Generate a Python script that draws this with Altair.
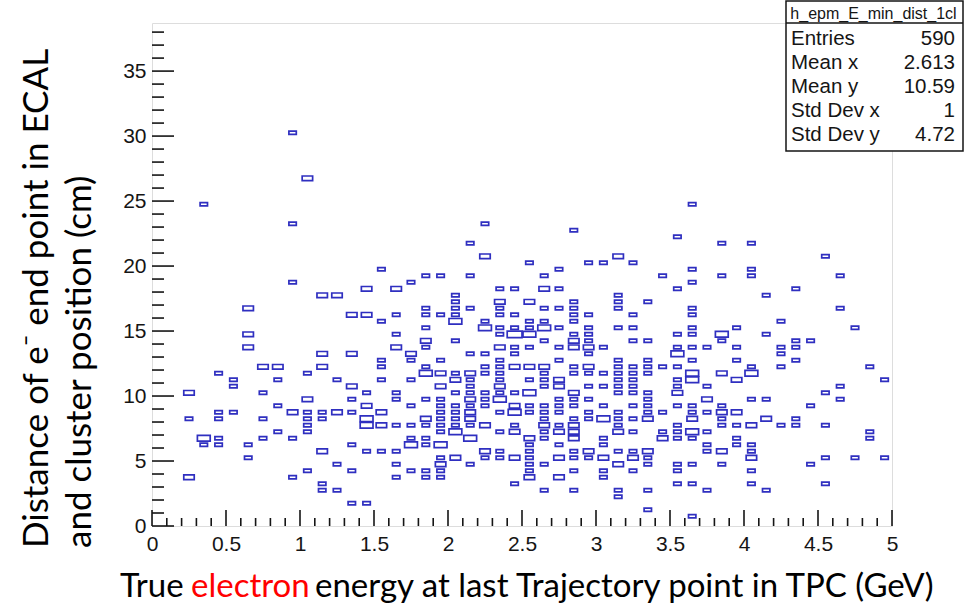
import altair as alt
import pandas as pd

# ---- histogram cells: bin-centre energy (GeV), bin-centre distances (cm), entries ----
col_energy = [0.25, 0.35, 0.45, 0.55, 0.65, 0.75, 0.85, 0.95, 1.05, 1.15, 1.25, 1.35, 1.45, 1.55, 1.65, 1.75,
              1.85, 1.95, 2.05, 2.15, 2.25, 2.35, 2.45, 2.55, 2.65, 2.75, 2.85, 2.95, 3.05, 3.15, 3.25, 3.35,
              3.45, 3.55, 3.65, 3.75, 3.85, 3.95, 4.05, 4.15, 4.25, 4.35, 4.45, 4.55, 4.65, 4.75, 4.85, 4.95]

col_distance = [
    [10.25, 8.25, 3.75],
    [24.75, 6.75, 6.25],
    [11.75, 8.75, 8.25, 6.75, 6.25],
    [11.25, 10.75, 8.75],
    [16.75, 14.75, 13.75, 6.25, 5.25],
    [12.25, 10.25, 8.25, 6.75],
    [12.25, 11.25, 9.25, 7.25],
    [30.25, 23.25, 18.75, 8.75, 6.75, 3.75],
    [26.75, 11.75, 9.75, 8.75, 8.25, 7.75, 7.25, 4.25],
    [17.75, 13.25, 12.25, 8.75, 8.25, 5.75, 3.25, 2.75],
    [17.75, 11.25, 8.75, 4.75, 2.75],
    [16.25, 13.25, 10.75, 9.75, 8.75, 6.25, 4.25, 1.75],
    [18.25, 16.25, 10.25, 9.25, 8.25, 7.75, 5.75, 1.75],
    [19.75, 15.75, 12.75, 12.25, 11.25, 8.75, 7.75, 5.75],
    [18.25, 16.25, 14.75, 13.75, 10.25, 9.75, 7.75, 5.75, 4.75, 3.75],
    [18.75, 13.25, 12.75, 11.25, 9.25, 7.75, 6.75, 6.25, 4.25],
    [19.25, 16.75, 16.25, 15.25, 14.25, 13.75, 12.25, 11.75, 9.75, 8.25, 7.75, 6.75, 6.25, 4.25, 3.75],
    [19.25, 16.25, 12.75, 11.75, 10.75, 9.75, 9.25, 8.75, 8.25, 7.75, 7.25, 6.25, 5.25, 4.75, 4.25, 3.75],
    [17.75, 17.25, 16.75, 16.25, 15.75, 14.25, 11.75, 11.25, 10.25, 9.25, 8.75, 8.25, 7.75, 7.25, 5.25],
    [21.75, 19.25, 16.75, 13.25, 11.75, 11.25, 10.75, 10.25, 9.75, 9.25, 8.75, 8.25, 7.75, 6.75, 4.75],
    [23.25, 20.75, 15.75, 15.25, 13.25, 12.25, 11.75, 10.25, 9.75, 9.25, 7.75, 5.75, 5.25],
    [18.25, 17.25, 16.75, 16.25, 15.25, 14.75, 13.75, 12.75, 12.25, 11.75, 11.25, 10.75, 10.25, 9.75, 8.75, 7.25, 5.75, 5.25],
    [18.25, 16.25, 15.25, 14.75, 13.75, 13.25, 12.25, 10.25, 9.25, 8.75, 7.75, 7.25, 5.25, 3.25],
    [20.25, 17.25, 15.75, 15.25, 14.75, 13.75, 12.25, 11.25, 10.25, 9.25, 8.75, 6.75, 6.25, 5.75, 5.25, 4.75, 4.25, 3.75],
    [19.25, 18.25, 16.75, 15.75, 15.25, 14.25, 12.25, 11.75, 11.25, 10.75, 9.25, 8.75, 8.25, 7.75, 7.25, 6.75, 4.75, 2.75],
    [19.75, 18.25, 16.75, 15.25, 13.75, 12.75, 11.25, 10.75, 9.75, 9.25, 8.75, 7.75, 7.25, 6.25, 5.25, 3.75],
    [22.75, 17.25, 16.75, 16.25, 15.75, 14.75, 14.25, 13.75, 12.25, 11.75, 10.25, 9.75, 9.25, 8.25, 7.75, 7.25, 6.75, 5.75, 5.25, 4.25, 2.75],
    [20.25, 16.25, 15.25, 14.75, 14.25, 13.75, 13.25, 12.25, 11.75, 10.75, 9.75, 8.75, 8.25, 5.75, 5.25],
    [20.25, 13.75, 11.75, 10.75, 9.25, 8.25, 6.75, 6.25, 5.25, 4.25, 3.75],
    [20.75, 17.75, 17.25, 16.75, 15.25, 12.75, 12.25, 11.75, 11.25, 10.75, 10.25, 8.75, 8.25, 7.75, 7.25, 5.75, 4.75, 2.75, 2.25],
    [20.25, 16.25, 15.25, 14.25, 12.25, 11.75, 11.25, 10.75, 10.25, 9.25, 8.25, 7.25, 5.75, 5.25, 4.25],
    [17.25, 14.25, 12.75, 12.25, 11.75, 10.25, 9.75, 9.25, 8.75, 8.25, 5.75, 5.25, 4.75, 2.75, 1.25],
    [19.25, 12.25, 8.75, 7.25, 6.75],
    [22.25, 18.25, 14.75, 13.75, 13.25, 12.25, 11.25, 10.75, 10.25, 9.25, 7.75, 7.25, 6.75, 4.75, 4.25, 3.25],
    [24.75, 19.75, 18.75, 16.75, 16.25, 15.25, 14.75, 13.75, 12.75, 11.75, 11.25, 9.25, 8.75, 8.25, 7.25, 6.75, 4.75, 3.25, 0.75],
    [13.75, 10.75, 9.75, 8.75, 7.25, 6.25, 5.75, 2.75],
    [21.75, 19.25, 14.75, 14.25, 11.75, 9.25, 8.75, 8.25, 7.75, 5.75, 4.75],
    [15.25, 13.75, 12.75, 11.25, 8.75, 7.75, 6.75, 6.25],
    [21.75, 19.75, 19.25, 12.25, 11.75, 9.75, 7.75, 6.25, 5.75, 5.25, 4.25, 3.25],
    [17.75, 14.75, 9.75, 8.25, 2.75],
    [15.75, 13.75, 13.25, 12.25, 7.75],
    [18.25, 14.25, 13.75, 12.75, 8.25, 7.75],
    [14.25, 9.25, 4.75],
    [20.75, 10.25, 7.75, 5.25, 3.25],
    [19.25, 16.75, 10.75, 9.75],
    [15.25, 5.25],
    [12.25, 7.25, 6.75],
    [11.25, 5.25],
]

col_entries = [
    [2, 1, 2],
    [1, 3, 1],
    [1, 1, 1, 1, 1],
    [1, 1, 1],
    [2, 2, 2, 1, 1],
    [2, 1, 1, 1],
    [2, 1, 1, 1],
    [1, 1, 1, 2, 1, 1],
    [2, 1, 2, 1, 1, 1, 1, 1],
    [2, 2, 2, 1, 1, 2, 1, 1],
    [2, 1, 2, 1, 1],
    [2, 2, 2, 1, 1, 1, 1, 1],
    [2, 2, 1, 2, 3, 3, 1, 1],
    [1, 1, 1, 1, 1, 2, 2, 1],
    [2, 1, 1, 2, 1, 1, 1, 1, 1, 1],
    [1, 2, 1, 1, 1, 1, 1, 3, 1],
    [1, 1, 1, 1, 2, 1, 1, 3, 1, 2, 1, 1, 1, 1, 1],
    [1, 1, 1, 2, 2, 1, 1, 1, 1, 1, 1, 3, 1, 2, 1, 1],
    [1, 1, 1, 1, 3, 1, 1, 2, 1, 1, 1, 1, 1, 3, 2],
    [1, 1, 1, 1, 2, 1, 1, 1, 2, 1, 2, 2, 1, 3, 1],
    [1, 2, 1, 3, 1, 1, 1, 1, 1, 1, 2, 2, 1],
    [1, 2, 1, 1, 1, 1, 2, 1, 1, 1, 1, 2, 1, 3, 1, 1, 1, 1],
    [1, 1, 1, 4, 1, 1, 2, 1, 2, 3, 1, 2, 2, 1],
    [1, 2, 1, 1, 3, 1, 2, 1, 3, 1, 1, 2, 1, 1, 1, 1, 1, 2],
    [1, 2, 1, 1, 3, 1, 2, 1, 1, 1, 1, 1, 1, 2, 1, 1, 1, 1],
    [1, 1, 1, 1, 1, 1, 2, 2, 1, 1, 1, 1, 2, 1, 2, 2],
    [1, 1, 1, 1, 1, 1, 2, 2, 1, 1, 2, 1, 1, 1, 2, 2, 2, 1, 1, 1, 1],
    [1, 1, 1, 1, 1, 2, 1, 2, 1, 1, 1, 1, 1, 2, 1],
    [1, 1, 1, 1, 1, 3, 1, 1, 2, 1, 1],
    [2, 1, 1, 1, 1, 1, 1, 1, 1, 1, 1, 1, 1, 1, 2, 1, 2, 1, 1],
    [1, 1, 1, 1, 1, 1, 1, 1, 1, 1, 1, 1, 1, 2, 1],
    [1, 1, 1, 1, 1, 1, 1, 1, 1, 2, 2, 1, 1, 1, 1],
    [1, 1, 1, 1, 2],
    [1, 1, 1, 1, 3, 1, 1, 1, 2, 1, 1, 1, 1, 1, 1, 1],
    [1, 1, 1, 1, 1, 1, 1, 1, 1, 3, 3, 1, 1, 2, 3, 1, 1, 1, 1],
    [1, 1, 2, 1, 1, 1, 1, 1],
    [1, 1, 3, 1, 2, 1, 2, 1, 1, 2, 1],
    [1, 1, 1, 2, 2, 1, 1, 1],
    [1, 1, 1, 1, 3, 1, 2, 1, 1, 2, 1, 1],
    [1, 1, 1, 2, 1],
    [1, 1, 1, 1, 1],
    [1, 1, 1, 1, 1, 1],
    [1, 1, 1],
    [1, 1, 1, 1, 1],
    [1, 1, 1, 1],
    [1, 1],
    [1, 1, 1],
    [1, 1],
]

x_tick_labels = [0, 0.5, 1, 1.5, 2, 2.5, 3, 3.5, 4, 4.5, 5]
x_minor_ticks = [round(i / 10, 1) for i in range(51) if i % 5 != 0]
y_tick_labels = [0, 5, 10, 15, 20, 25, 30, 35]
y_minor_ticks = [v for v in range(39) if v % 5 != 0]

stat_title = "h_epm_E_min_dist_1cl"
stat_labels = ["Entries", "Mean x", "Mean y", "Std Dev x", "Std Dev y"]
stat_values = ["590", "2.613", "10.59", "1", "4.72"]

x_title_parts = ["True", "electron", "energy at last Trajectory point in TPC (GeV)"]
y_title_lines = ["Distance of e\u207b end point in ECAL", "and cluster position (cm)"]

# ---- build table ----
rows = []
for e, ds, ns in zip(col_energy, col_distance, col_entries):
    for d, n in zip(ds, ns):
        rows.append({"energy": e, "distance": d, "entries": n})
cells = pd.DataFrame(rows)

W, H = 740, 503
XMAX, YMAX = 5, 38.7
xs = alt.Scale(domain=[0, XMAX], nice=False, zero=False)
ys = alt.Scale(domain=[0, YMAX], nice=False, zero=False)
AXC = "#151515"
BLUE = "#2f2fc0"
LABEL_FONT = "Liberation Sans"
TITLE_FONT = "Lato"

boxes = alt.Chart(cells).transform_calculate(
    hw="0.05*sqrt(datum.entries/4)", hh="0.25*sqrt(datum.entries/4)"
).transform_calculate(
    x1="datum.energy - datum.hw", x2="datum.energy + datum.hw",
    y1="datum.distance - datum.hh", y2="datum.distance + datum.hh",
).mark_rect(fill="white", stroke=BLUE, strokeWidth=1.7).encode(
    x=alt.X("x1:Q", scale=xs, axis=alt.Axis(
        values=x_tick_labels, format="~g", title=None, ticks=False, domain=False, grid=False,
        labelFont=LABEL_FONT, labelFontSize=21, labelColor=AXC, labelPadding=7,
        labelOverlap=False, labelFlush=False)),
    x2="x2:Q",
    y=alt.Y("y1:Q", scale=ys, axis=alt.Axis(
        values=y_tick_labels, format="~g", title=None, ticks=False, domain=False, grid=False,
        labelFont=LABEL_FONT, labelFontSize=21, labelColor=AXC, labelPadding=6,
        labelOverlap=False, labelFlush=False)),
    y2="y2:Q",
)


def xticks(vals, length):
    return alt.Chart(pd.DataFrame({"v": vals})).mark_rule(color=AXC, strokeWidth=1.6).encode(
        x=alt.X("v:Q", scale=xs, axis=None), y=alt.value(H), y2=alt.value(H - length))


def yticks(vals, length):
    return alt.Chart(pd.DataFrame({"v": vals})).mark_rule(color=AXC, strokeWidth=1.6).encode(
        y=alt.Y("v:Q", scale=ys, axis=None), x=alt.value(0), x2=alt.value(length))


def label(text, x, y, **kw):
    return alt.Chart(pd.DataFrame({"t": [text]})).mark_text(**kw).encode(
        text="t:N", x=alt.value(x), y=alt.value(y))


XT_SIZE = 33
YT_SIZE = 35
xt_base = 574
xtitle = [
    label(x_title_parts[0], -32, xt_base, align="left", baseline="alphabetic",
          font=TITLE_FONT, fontSize=XT_SIZE, color="black"),
    label(x_title_parts[1], 39, xt_base, align="left", baseline="alphabetic",
          font=TITLE_FONT, fontSize=XT_SIZE, color="#ff0000"),
    label(x_title_parts[2], 163, xt_base, align="left", baseline="alphabetic",
          font=TITLE_FONT, fontSize=XT_SIZE, color="black"),
]
ytitle = [
    label(y_title_lines[0], -104, 525, align="left", baseline="alphabetic", angle=270,
          font=TITLE_FONT, fontSize=YT_SIZE, color="black"),
    label(y_title_lines[1], -61, 525, align="left", baseline="alphabetic", angle=270,
          font=TITLE_FONT, fontSize=YT_SIZE, color="black"),
]

# stats box
BX0, BX1, BY0, BY1 = 634, 811, -22, 128
stat_box = alt.Chart(pd.DataFrame({"a": [0]})).mark_rect(
    fill="white", stroke=AXC, strokeWidth=1.5).encode(
    x=alt.value(BX0), x2=alt.value(BX1), y=alt.value(BY0), y2=alt.value(BY1))
stat_sep = alt.Chart(pd.DataFrame({"a": [0]})).mark_rule(color=AXC, strokeWidth=1.5).encode(
    x=alt.value(BX0), x2=alt.value(BX1), y=alt.value(0))
stat_head = label(stat_title, (BX0 + BX1) / 2 - 1, -9, align="center", baseline="middle",
                  font=LABEL_FONT, fontSize=16, color=AXC)
stat_df = pd.DataFrame({"lab": stat_labels, "val": stat_values,
                        "py": [16 + 24 * i for i in range(len(stat_labels))]})
stat_labs = alt.Chart(stat_df).mark_text(align="left", baseline="middle", font=LABEL_FONT,
                                         fontSize=20.5, color=AXC).encode(
    text="lab:N", x=alt.value(639), y=alt.Y("py:Q", scale=None, axis=None))
stat_vals = alt.Chart(stat_df).mark_text(align="right", baseline="middle", font=LABEL_FONT,
                                         fontSize=20.5, color=AXC).encode(
    text="val:N", x=alt.value(803), y=alt.Y("py:Q", scale=None, axis=None))

chart = alt.layer(
    boxes,
    xticks(x_tick_labels, 16), xticks(x_minor_ticks, 8),
    yticks(y_tick_labels, 22), yticks(y_minor_ticks, 12),
    *xtitle, *ytitle,
    stat_box, stat_sep, stat_head, stat_labs, stat_vals,
).resolve_scale(x="independent", y="independent").properties(
    width=W, height=H,
    padding={"left": 152, "top": 23, "right": 72, "bottom": 86},
    autosize=alt.AutoSizeParams(type="none"),
).configure_view(stroke=AXC, strokeWidth=2).configure(background="white")

chart.save("out.html", embed_options={"renderer": "svg", "actions": False})
